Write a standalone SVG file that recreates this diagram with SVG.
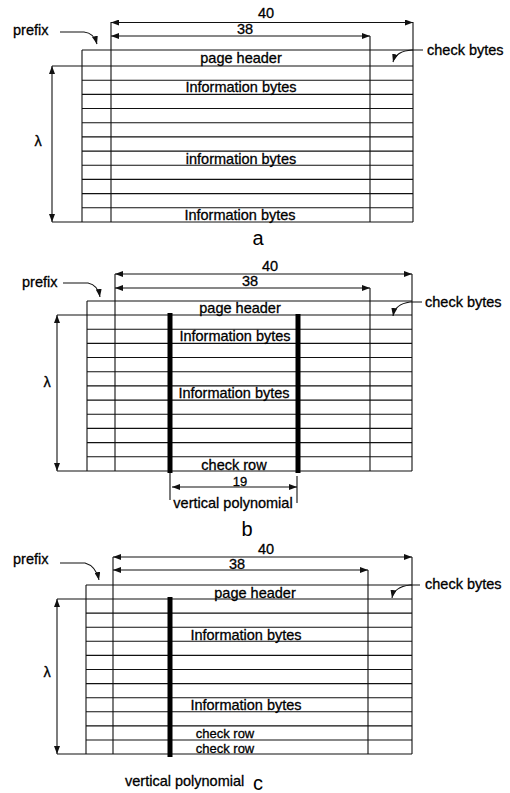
<svg xmlns="http://www.w3.org/2000/svg" width="510" height="793" viewBox="0 0 510 793">
<style>
.ln{stroke:#111;stroke-width:1.1;fill:none}
.bar{stroke:#000;stroke-width:5;fill:none}
.t{font-family:"Liberation Sans",Arial,sans-serif;font-size:14.5px;fill:#000;stroke:#000;stroke-width:0.3}
.s{font-size:13px}
.m{text-anchor:middle}
.big{font-family:"Liberation Sans",Arial,sans-serif;font-size:20px;fill:#000;text-anchor:middle}
.dim{marker-start:url(#ah);marker-end:url(#ah)}
.lead{marker-end:url(#ah)}
</style>
<defs>
<marker id="ah" viewBox="0 0 8 6" refX="8" refY="3" markerWidth="8" markerHeight="6" markerUnits="userSpaceOnUse" orient="auto-start-reverse">
<path d="M0,0 L8,3 L0,6 z" fill="#111"/>
</marker>
</defs>
<rect width="510" height="793" fill="#fff"/>

<!-- Panel a -->
<g id="panel-a">
<g id="a-table">
<path class="ln" d="M82,50H413 M52,66H413 M82,80.2H413 M82,94.4H413 M82,108.5H413 M82,122.7H413 M82,136.9H413 M82,151.1H413 M82,165.3H413 M82,179.4H413 M82,193.6H413 M82,207.8H413 M52,222H413"/>
<path class="ln" d="M82,50V222 M111,22V222 M370,36V222 M413,22V222"/>
</g>
<g id="a-connectors">
<path class="ln dim" d="M111,22.5H413"/>
<path class="ln dim" d="M111,36H370"/>
<path class="ln dim" d="M52,66V222"/>
<path class="ln lead" d="M60,32H84Q94,33 97,44"/>
<path class="ln lead" d="M423,50H412Q396,51 393,62"/>
</g>
<g id="a-labels">
<text class="t" x="13" y="35">prefix</text>
<text class="t m" x="266" y="18">40</text>
<text class="t m" x="245" y="34">38</text>
<text class="t" x="427" y="55">check bytes</text>
<text class="t m" x="241" y="63">page header</text>
<text class="t m" x="241" y="92">Information bytes</text>
<text class="t m" x="241" y="164">information bytes</text>
<text class="t m" x="240" y="220">Information bytes</text>
<text class="t m" x="38" y="146">λ</text>
<text class="big" x="258" y="245">a</text>
</g>
</g>

<!-- Panel b -->
<g id="panel-b">
<g id="b-table">
<path class="ln" d="M87,301H412 M57,315H412 M87,329.2H412 M87,343.4H412 M87,357.5H412 M87,371.7H412 M87,385.9H412 M87,400.1H412 M87,414.3H412 M87,428.4H412 M87,442.6H412 M87,456.8H412 M57,471H412"/>
<path class="ln" d="M87,301V471 M115,274V471 M370,288V471 M412,274V471"/>
<path class="bar" d="M170,313V473 M298,314V473"/>
</g>
<g id="b-connectors">
<path class="ln dim" d="M115,274H412"/>
<path class="ln dim" d="M115,288H370"/>
<path class="ln dim" d="M57,315V471"/>
<path class="ln dim" d="M172,487H297"/>
<path class="ln" d="M170,473V500 M297,476V503"/>
<path class="ln lead" d="M63,283H88Q98,285 100,297"/>
<path class="ln lead" d="M422,302H410Q395,304 393,316"/>
</g>
<g id="b-labels">
<text class="t" x="22" y="287">prefix</text>
<text class="t m" x="270" y="271">40</text>
<text class="t m" x="250" y="286">38</text>
<text class="t" x="425" y="307">check bytes</text>
<text class="t m" x="240" y="313">page header</text>
<text class="t m" x="235" y="341">Information bytes</text>
<text class="t m" x="234" y="398">Information bytes</text>
<text class="t m" x="234" y="470">check row</text>
<text class="t s m" x="240" y="485.5">19</text>
<text class="t m" x="233" y="508">vertical polynomial</text>
<text class="t m" x="47" y="387">λ</text>
<text class="big" x="247" y="536">b</text>
</g>
</g>

<!-- Panel c -->
<g id="panel-c">
<g id="c-table">
<path class="ln" d="M86,585H412 M57,599H412 M86,613.1H412 M86,627.2H412 M86,641.3H412 M86,655.4H412 M86,669.5H412 M86,683.6H412 M86,697.7H412 M86,711.8H412 M86,725.9H412 M86,740H412 M57,754H412"/>
<path class="ln" d="M86,585V754 M113,557V754 M368,570V754 M412,557V754"/>
<path class="bar" d="M170,597V757"/>
</g>
<g id="c-connectors">
<path class="ln dim" d="M113,557H412"/>
<path class="ln dim" d="M113,570H368"/>
<path class="ln dim" d="M57,599V754"/>
<path class="ln lead" d="M60,563H85Q96,566 99,580"/>
<path class="ln lead" d="M420,585H410Q394,587 392,598"/>
</g>
<g id="c-labels">
<text class="t" x="13" y="564">prefix</text>
<text class="t m" x="266" y="554">40</text>
<text class="t m" x="237" y="569">38</text>
<text class="t" x="425" y="589">check bytes</text>
<text class="t m" x="255" y="598">page header</text>
<text class="t m" x="246" y="640">Information bytes</text>
<text class="t m" x="246" y="710">Information bytes</text>
<text class="t s m" x="225" y="738">check row</text>
<text class="t s m" x="225" y="752.5">check row</text>
<text class="t" x="125" y="786">vertical polynomial</text>
<text class="t m" x="47" y="677">λ</text>
<text class="big" x="258" y="790">c</text>
</g>
</g>
</svg>
